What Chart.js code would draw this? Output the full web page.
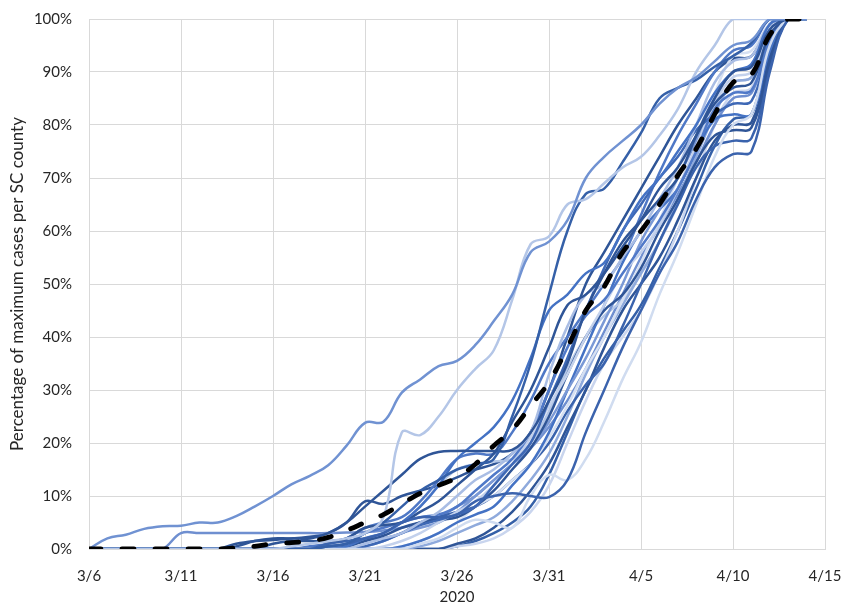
<!DOCTYPE html>
<html>
<head>
<meta charset="utf-8">
<script src="https://cdn.jsdelivr.net/npm/chart.js@4"></script>
<style>
    html, body { margin: 0; padding: 0; background: #fff; }
    #wrap { width: 843px; height: 606px; }
</style>
</head>
<body>
<div id="wrap"><canvas id="casesChart" width="843" height="606"></canvas></div>
<script>
// x axis: day 0 = 3/6 ... day 40 = 4/15
const tickLabels = ['3/6', '3/11', '3/16', '3/21', '3/26', '3/31', '4/5', '4/10', '4/15'];
const yTicks = [0, 10, 20, 30, 40, 50, 60, 70, 80, 90, 100];

// black dashed line (average of counties)
const average = [0,0,0,0,0,0,0,0,0.2,0.5,1,1.2,1.5,2.2,3.5,5,6.5,8.5,10.5,12,13.5,16,19.5,22.5,27,31.5,38,45,49.5,56,60,65,70.5,75.5,82,88,89.5,97,100,100];

// one line per county, percentage of its max
const county01 = [0,2,2.7,3.8,4.3,4.4,5,5,6.2,8,10,12.2,13.8,15.8,19.5,23.8,24,29.5,32,34.5,35.5,38.5,43,48,56,58,62,70,74,77,80,84,87,89,92,95,96,100,100,100];
const county02 = [0,0,0,0,0,0,0,0,0,0,0,0.5,1,1.5,2,3,6,22,21.5,25,30,34,37.5,47,57.5,59,65,66,69,72,74,78,83,90,95,100,100,100,100,100];
const county03 = [0,0,0,0,0,0,0,0,0,0,0,0,0,0.5,1,3,5,8,11,13,15,16,17,25,35,48,60,67,68,73,78.5,85,87,88.5,91,93,95.5,100,100,100];
const county04 = [0,0,0,0,0,0,0,0,1,1.5,1.7,2,2,3,5,8,11,14,17,18.3,18.5,18.5,18.5,18.7,22,28,35,45,52,58,62,66,70,78,85,90,91,98,100,100];
const county05 = [0,0,0,0,0,0,0,0,0,0,0,0,0,0.5,1,2,3,5,6,6,6.5,9,10,10.5,10,9.8,13,22,30,38,45,52,58,66,72,74.5,75,90,100,100];
const county06 = [0,0,0,0,0,0,0,0,0,0,0,0,0,0,0,0,0,0,1,2,4,5.5,5,4,10,14,13,17,24,32,39,48,56,65,74,80,82,95,100,100];
const county07 = [0,0,0,0,0,0,0,0,0,0,0,0,0,0,0.5,2,3,5,8,12,17,20,23,28,36,45,48,52,54,60,66,70,75,80,86,90,91.5,99,100,100];
const county08 = [0,0,0,0,0,0,0,0,0,0,1,1.5,1.5,1.5,2,4,4.5,5,7,9,12,15,18,24,30,38,46,48,52,57,62,68,72,78,84,87,88,97,100,100];
const county09 = [0,0,0,0,0,0,0,0,0,0,0,0,0,0,0,1,2,3,5,7,10,13,15,18,22,33,42,48,50,55,60,66,72,80,88,92,93,99,100,100];
const county10 = [0,0,0,0,0,0,0,0,0,0,0,0,0,0.5,1,3,4,5,6,6.5,8,11,14,17,22,30,38,44,47,52,57,62,68,75,83,86,86.5,96,100,100];
const county11 = [0,0,0,0,0,0,0,0,0,0,0,0,0,0,0,0.5,1.5,3,4.5,5.5,6.5,8,12,16,20,28,36,45,53,60,65,70,74,79,82,84,84.5,95,100,100];
const county12 = [0,0,0,0,0,0,0,0,0,0,0,0,0,0,0,0,0.5,1.5,3,5,7,9,12,16,21,27,33,40,46,52,56,61,68,76,84,89,90,98,100,100];
const county13 = [0,0,0,0,0,0,0,0,0,0,0,0,0,0,0.5,1.5,2.5,4,5,5.5,6,8,11,15,19,25,33,40,45,48,53,60,66,73,78,79,79.5,92,100,100];
const county14 = [0,0,0,0,0,0,0,0,0,0,0,0,0,0,0,0.5,1.5,3,4,5,7,10,13,16,19,24,30,36,43,50,58,64,70,77,85,90,91,99,100,100];
const county15 = [0,0,0,0,0,0,0,0,0,0,0,0,0,0,0,0,0,0.5,1.5,3,5,6.5,8,12,16,22,30,38,46,54,60,64,68,75,81,82,82,94,100,100];
const county16 = [0,0,0,0,0,0,0,0,0,0,0,0,0,0,0,0,0,0.5,1.5,3,5,8,10,13,16,21,27,34,40,47,54,62,70,78,86,93,94,99,100,100];
const county17 = [0,0,0,0,0,0,0,0,0,0,0,0,0,1,1.5,2,2,3,5,6,7,8,10,13,16,20,26,31,35,42,50,58,65,72,76,77,77.5,91,100,100];
const county18 = [0,0,0,0,0,0,0,0,0,0,0,0,0,0,0,0,0,0,0.5,1.5,3,4.5,6,9,13,18,25,33,40,46,52,58,66,74,82,88,89,98,100,100];
const county19 = [0,0,0,0,0,0,0,0,0,0,0,0,0,0,0,0,0,0,0,0,1,2,4,7,11,16,23,30,38,45,50,55,62,70,77,80,80.5,93,100,100];
const county20 = [0,0,0,0,0,0,0,0,0,0,0,0,0,0,0,2,3,5,8,12,15,16,16.5,17,20,26,34,40,44,47,52,58,65,74,83,88,89,98,100,100];
const county21 = [0,0,0,0,0,0,0,0,0,0,0,0,0.5,1,2,4,5,6,9,13,17,18,18,22,28,35,40,45,50,55,63,71,78,84,90,94,95,100,100,100];
const county22 = [0,0,0,0,0,3,3,3,3,3,3,3,3,3,3.1,3.2,3.5,4,5,6,8,10,13,16,19,23,28,34,41,48,55,61,67,73,80,85,86,96,100,100];
const county23 = [0,0,0,0,0,0,0,0,0,0,0,0,0,0,0,0,0,0,0,0,0.5,1,2,4,7,12,20,28,35,40,45,52,60,70,80,86,87,97,100,100];
const county24 = [0,0,0,0,0,0,0,0,0,0,0,0,0,0,0,0,0,0,0,0,0.5,1.5,3,5,8,14,22,30,36,41,46,53,60,68,76,81,82,95,100,100];
const county25 = [0,0,0,0,0,0,0,0,0.5,1.5,2,2,2.3,3,5,9,8.5,10,11,12,13.5,15,16,18,22,30,40,50,56,62,68,74,80,85,90,92.5,93,99,100,100];

const counties = [county01, county02, county03, county04, county05, county06, county07, county08, county09,
    county10, county11, county12, county13, county14, county15, county16, county17, county18, county19,
    county20, county21, county22, county23, county24, county25];
const countyColors = ['#7092d2', '#b4c6e7', '#3560a8', '#2f5597', '#3b63ad', '#d0dcf0', '#4472c4', '#2f5597',
    '#a9bde4', '#5079c8', '#3e68b5', '#c3d1ec', '#2f5597', '#7a99d6', '#4472c4', '#d6e0f2', '#3a63ad',
    '#8faadc', '#2f5597', '#b4c7e7', '#4f78c6', '#6f8fd0', '#c9d5ee', '#3560a8', '#2f5597'];

const toPoints = arr => arr.map((v, i) => ({x: i, y: v}));

const datasets = [{
    label: 'Average',
    data: toPoints(average),
    borderColor: '#000000',
    borderWidth: 4.8,
    borderDash: [12, 21],
    borderCapStyle: 'round',
    pointRadius: 0,
    tension: 0.4
}];
counties.forEach((c, i) => {
    datasets.push({
        label: 'County ' + (i + 1),
        data: toPoints(c),
        borderColor: countyColors[i],
        borderWidth: 2.5,
        pointRadius: 0,
        tension: 0.4
    });
});

const font = {family: 'Lato', size: 15};
const ctx = document.getElementById('casesChart').getContext('2d');
new Chart(ctx, {
    type: 'line',
    data: {datasets: datasets},
    options: {
        responsive: false,
        animation: false,
        layout: {padding: 0},
        plugins: {legend: {display: false}, tooltip: {enabled: false}},
        scales: {
            x: {
                type: 'linear',
                min: 0,
                max: 40,
                afterBuildTicks: axis => { axis.ticks = tickLabels.map((t, i) => ({value: i * 5})); },
                afterFit: axis => {
                    axis.height = 57;
                    axis.paddingLeft = 0;
                    axis.paddingRight = 18;
                },
                ticks: {
                    callback: (v) => tickLabels[v / 5],
                    color: '#262626',
                    font: font,
                    padding: 18,
                    maxRotation: 0
                },
                grid: {color: '#d9d9d9', lineWidth: 1, drawTicks: false},
                border: {color: '#d9d9d9'},
                title: {display: true, text: '2020', color: '#262626', font: font, padding: {top: 5, bottom: 0}}
            },
            y: {
                min: 0,
                max: 100,
                afterBuildTicks: axis => { axis.ticks = yTicks.map(v => ({value: v})); },
                afterFit: axis => {
                    axis.width = 89;
                    axis.paddingTop = 19;
                    axis.paddingBottom = 0;
                },
                ticks: {
                    callback: v => v + '%',
                    color: '#262626',
                    font: font,
                    padding: 17
                },
                grid: {color: '#d9d9d9', lineWidth: 1, drawTicks: false},
                border: {color: '#d9d9d9'},
                title: {display: true, text: 'Percentage of maximum cases per SC county', color: '#262626', font: {family: 'Lato', size: 17}, padding: {top: 7, bottom: 0}}
            }
        }
    }
});
</script>
</body>
</html>
